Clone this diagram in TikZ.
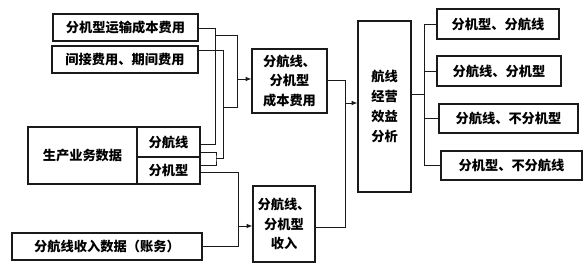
\documentclass[tikz,border=0pt]{standalone}
\usepackage{fontspec}
\usepackage{tikz}
\usetikzlibrary{arrows.meta, positioning, calc}
\newfontfamily\cjk{Noto Sans CJK SC}
\definecolor{inkline}{HTML}{1A1A1A}

\begin{document}
\begin{tikzpicture}[x=0.03cm, y=-0.03cm,
            bx/.style 2 args={draw=inkline, line width=0.9pt, inner sep=0pt, align=center,
                minimum width=#1*0.03cm, minimum height=#2*0.03cm,
                font=\cjk\bfseries\fontsize{11.3}{17}\selectfont},
            ln/.style={draw=inkline, line width=0.8pt},
            arr/.style={ln, -{Latex[length=5pt, width=4pt]}}]
            \useasboundingbox (0,0) rectangle (586,263);
            % input boxes
            \node[bx={145}{27}] (costA) at (125.5,27.5) {分机型运输成本费用};
            \node[bx={146}{27}] (costB) at (125,59.5) {间接费用、期间费用};
            \node[bx={109}{57}] (prod) at (82.5,155.5) {生产业务数据};
            \node[bx={63}{30}] (prodL) at (168.5,142) {分航线};
            \node[bx={63}{27}] (prodT) at (168.5,170.5) {分机型};
            \node[bx={190}{27}] (inc) at (107,246.5) {分航线收入数据（账务）};
            % middle boxes
            \node[bx={75}{64}] (cost) at (289.5,81) {分航线、\\分机型\\成本费用};
            \node[bx={62}{76}] (income) at (284,224) {分航线、\\分机型\\收入};
            \node[bx={53}{171}] (ana) at (384.5,106.5) {航线\\经营\\效益\\分析};
            % output boxes
            \node[bx={122}{30}] (r1) at (498,24) {分机型、分航线};
            \node[bx={124}{30}] (r2) at (499,71) {分航线、分机型};
            \node[bx={139}{29}] (r3) at (508.5,118.5) {分航线、不分机型};
            \node[bx={141}{29}] (r4) at (511.5,165.5) {分机型、不分航线};
            % bus points
            \coordinate (busA) at (215,144);
            \coordinate (busB) at (223,50);
            \coordinate (busBlow) at (223,158);
            \coordinate (merge) at (216,158);
            \coordinate (colC) at (237,79);
            \coordinate (colI) at (238,226);
            \coordinate (colR) at (345,103);
            \coordinate (busR) at (424,94);
            % cost side
            \draw[ln] (costA.east |- 0,28) -| (busA) -- (prodL.east |- busA);
            \draw[ln] (costB.east |- busB) -- (busB) -- (busBlow) -- (merge);
            \draw[ln] (prodL.east |- 0,152) -| (merge) |- (prodT.east |- 0,165);
            \draw[ln] (busA |- 0,35) -| (colC |- 0,107) -- (busB |- 0,107);
            \draw[ln] (colC |- 0,35) -- (colC);
            \draw[arr] (colC) -- (cost.west |- colC);
            % income side
            \draw[ln] (prodT.east |- 0,172) -| (colI |- inc.east) -- (inc.east);
            \draw[arr] (colI) -- (income.west |- colI);
            \draw[ln] (income.east |- 0,227) -| (colR |- 0,80) -- (cost.east |- 0,80);
            \draw[arr] (colR) -- (ana.west |- colR);
            % outputs
            \draw[ln] (ana.east |- busR) -- (busR);
            \draw[ln] (busR |- r1.west) -- (busR |- r4.west);
            \foreach \r in {r1,r2,r3,r4} {
                \draw[ln] (busR |- \r.west) -- (\r.west);
            }
        \end{tikzpicture}
\end{document}
